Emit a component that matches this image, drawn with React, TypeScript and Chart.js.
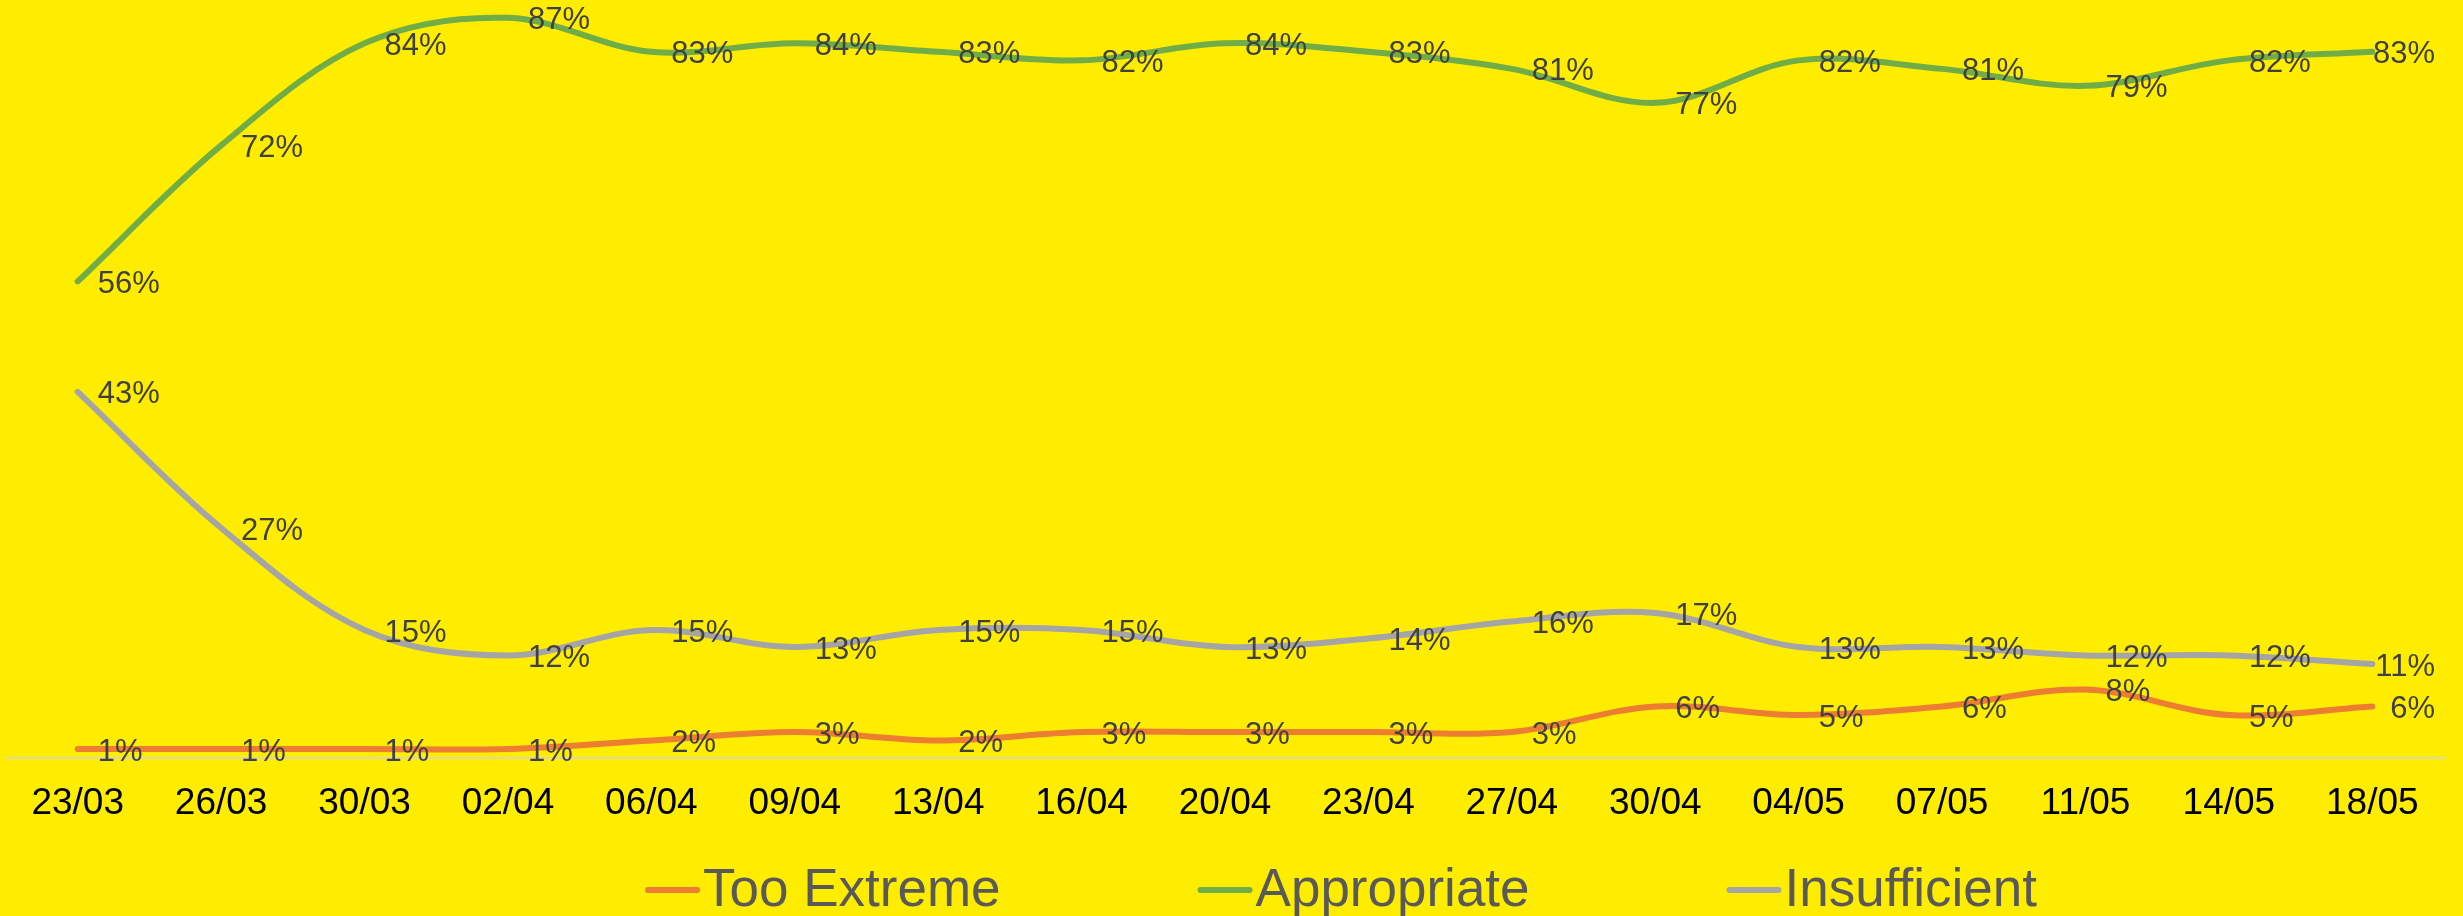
import React, { useEffect, useRef } from 'react';
import { Chart, registerables } from 'chart.js';

Chart.register(...registerables);

const categories = ['23/03', '26/03', '30/03', '02/04', '06/04', '09/04', '13/04', '16/04', '20/04', '23/04', '27/04', '30/04', '04/05', '07/05', '11/05', '14/05', '18/05'];
const tooExtreme = [1, 1, 1, 1, 2, 3, 2, 3, 3, 3, 3, 6, 5, 6, 8, 5, 6];
const appropriate = [56, 72, 84, 87, 83, 84, 83, 82, 84, 83, 81, 77, 82, 81, 79, 82, 83];
const insufficient = [43, 27, 15, 12, 15, 13, 15, 15, 13, 14, 16, 17, 13, 13, 12, 12, 11];
const seriesNames = ['Too Extreme', 'Appropriate', 'Insufficient'];
const seriesColors = ['#ED7D31', '#70AD47', '#A5A5A5'];

const FONT = "'Liberation Sans', Arial, sans-serif";
const BG = '#FFED00';
const W = 2463;
const H = 916;

const bgPlugin = {
  id: 'bg',
  beforeDraw(chart: any) {
    const ctx = chart.ctx;
    ctx.save();
    ctx.fillStyle = BG;
    ctx.fillRect(0, 0, chart.width, chart.height);
    ctx.restore();
  },
};

const labelPlugin = {
  id: 'pointLabels',
  afterDatasetsDraw(chart: any) {
    const ctx = chart.ctx;
    ctx.save();
    ctx.font = `31px ${FONT}`;
    ctx.fillStyle = '#404040';
    ctx.textBaseline = 'middle';
    ctx.textAlign = 'left';
    const rightLimit = chart.chartArea.right - 9;
    chart.data.datasets.forEach((ds: any, i: number) => {
      const meta = chart.getDatasetMeta(i);
      meta.data.forEach((pt: any, j: number) => {
        const text = `${ds.data[j]}%`;
        const w = ctx.measureText(text).width;
        let x = pt.x + 20;
        if (x + w > rightLimit) x = rightLimit - w;
        ctx.fillText(text, x, pt.y + 3);
      });
    });
    ctx.restore();
  },
};

const legendPlugin = {
  id: 'customLegend',
  afterDraw(chart: any) {
    const ctx = chart.ctx;
    ctx.save();
    ctx.font = `53px ${FONT}`;
    ctx.textBaseline = 'middle';
    ctx.textAlign = 'left';
    const markerW = 55;
    const markerGap = 3;
    const itemGap = 197;
    const widths = seriesNames.map((n) => ctx.measureText(n).width);
    const total = widths.reduce((a, b) => a + b, 0) + seriesNames.length * (markerW + markerGap) + itemGap * (seriesNames.length - 1);
    const centerX = 1341;
    const y = 889;
    let x = centerX - total / 2;
    seriesNames.forEach((name, i) => {
      ctx.strokeStyle = seriesColors[i];
      ctx.lineWidth = 6;
      ctx.lineCap = 'round';
      ctx.beginPath();
      ctx.moveTo(x + 3, y + 1);
      ctx.lineTo(x + markerW - 3, y + 1);
      ctx.stroke();
      x += markerW + markerGap;
      ctx.fillStyle = '#595959';
      ctx.fillText(name, x, y + 2);
      x += widths[i] + itemGap;
    });
    ctx.restore();
  },
};

export default function App() {
  const ref = useRef<HTMLCanvasElement | null>(null);
  useEffect(() => {
    document.body.style.background = BG;
    const canvas = ref.current;
    if (!canvas) return;
    const mk = (label: string, data: number[], color: string) => ({
      label,
      data,
      borderColor: color,
      backgroundColor: color,
      borderWidth: 6,
      borderCapStyle: 'round' as const,
      borderJoinStyle: 'round' as const,
      pointRadius: 0,
      pointHoverRadius: 0,
      tension: 0.35,
      fill: false,
      clip: false as any,
    });
    const chart = new Chart(canvas, {
      type: 'line',
      data: {
        labels: categories,
        datasets: [
          mk(seriesNames[0], tooExtreme, seriesColors[0]),
          mk(seriesNames[1], appropriate, seriesColors[1]),
          mk(seriesNames[2], insufficient, seriesColors[2]),
        ],
      },
      options: {
        animation: false,
        responsive: false,
        devicePixelRatio: 1,
        layout: { padding: { left: 6, right: 19, top: 0, bottom: 0 } },
        plugins: {
          legend: { display: false },
          tooltip: { enabled: false },
          title: { display: false },
        },
        scales: {
          x: {
            type: 'category',
            offset: true,
            grid: { display: false, drawTicks: false },
            border: { display: true, color: '#DDD8A6', width: 2 },
            ticks: {
              color: '#000000',
              font: { family: FONT, size: 37 },
              padding: 24,
              maxRotation: 0,
              autoSkip: false,
            },
            afterFit(scale: any) {
              scale.height = 158.5;
            },
          },
          y: {
            display: false,
            min: 0,
            max: 89.1,
          },
        },
      },
      plugins: [bgPlugin, labelPlugin, legendPlugin],
    });
    return () => chart.destroy();
  }, []);
  return (
    <div style={{ position: 'absolute', left: 0, top: 0, width: W, height: H }}>
      <canvas ref={ref} width={W} height={H} style={{ display: 'block', width: W, height: H }} />
    </div>
  );
}
